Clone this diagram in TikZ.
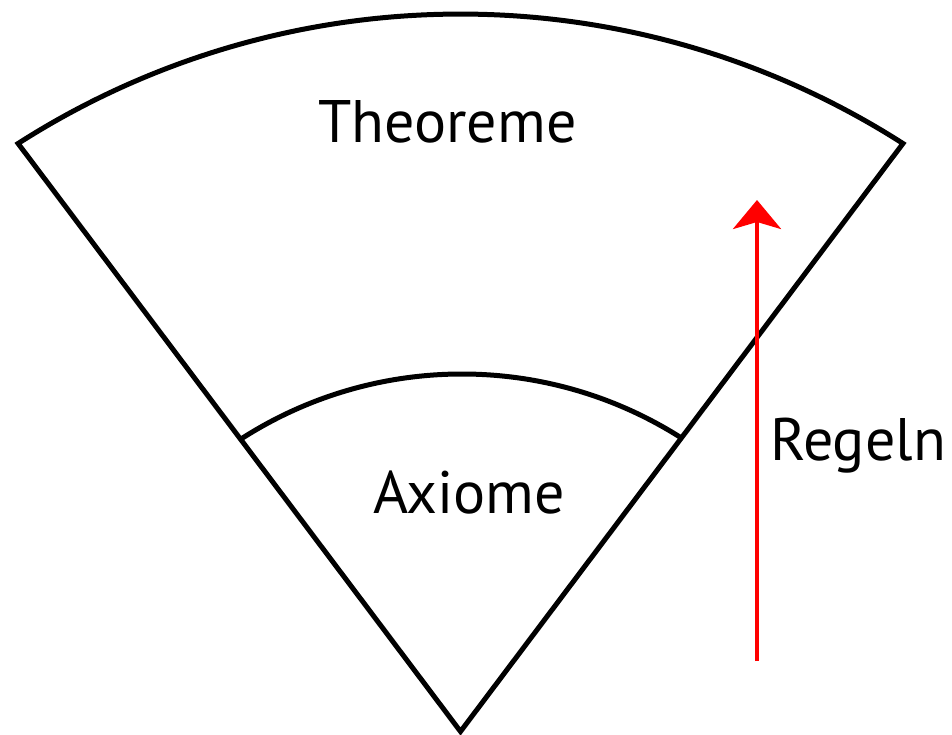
\documentclass[tikz,border=0pt]{standalone}
\usepackage{fontspec}
\setmainfont{PT Sans}
\usetikzlibrary{arrows.meta}
\begin{document}
\begin{tikzpicture}[x=1pt,y=1pt,
  outline/.style={line width=5pt, black, line join=miter},
  label/.style={inner sep=0pt, font=\fontsize{60}{60}\selectfont},
  rule/.style={line width=4.5pt, red, -{Stealth[length=29pt, width=48pt, inset=7pt]}}]
\useasboundingbox (0,0) rectangle (952,734);
\coordinate (A) at (460.5,2.5);
\coordinate (L) at (18.1,590.5);
\coordinate (R) at (902.9,590.5);
\coordinate (IL) at (241,295);
\coordinate (IR) at (683,295);
\draw[outline] (A) -- (L) arc[start angle=122.62, end angle=57.38, radius=820.76] -- cycle;
\draw[outline] (IL) arc[start angle=122.78, end angle=57.22, radius=408.2];
\node[label, anchor=base] (theo) at (447.5,591) {Theoreme};
\node[label, anchor=base] (ax) at (469,221) {Axiome};
\node[label, anchor=base west] (reg) at (770,273) {Regeln};
\coordinate (rb) at (757,73);
\coordinate (rt) at (757,534);
\draw[rule] (rb) -- (rt);
\end{tikzpicture}
\end{document}
